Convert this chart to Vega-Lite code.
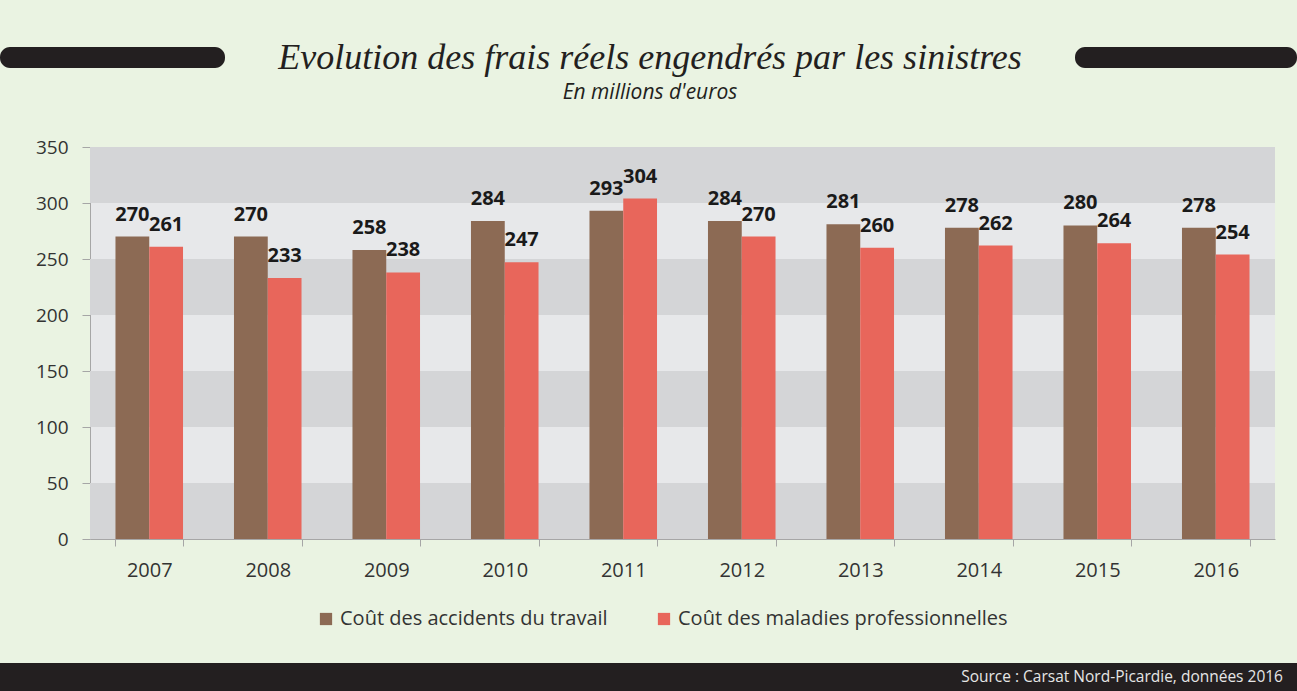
{
  "$schema": "https://vega.github.io/schema/vega-lite/v6.json",
  "background": "#eaf3e2",
  "padding": 0,
  "config": {"view": {"stroke": null}, "font": "Open Sans"},
  "spacing": 83,
  "vconcat": [
    {
      "spacing": 23,
      "vconcat": [
        {
          "bounds": "flush",
          "center": true,
          "spacing": 0,
          "hconcat": [
            {
              "width": 225, "height": 21,
              "view": {"fill": "#231f20", "cornerRadius": 10, "stroke": null},
              "data": {"values": [{}]},
              "mark": {"type": "text"},
              "encoding": {"text": {"value": ""}}
            },
            {
              "width": 850, "height": 115,
              "view": {"fill": "#eaf3e2", "stroke": null},
              "data": {"values": [{"t": "Evolution des frais réels engendrés par les sinistres", "s": "En millions d'euros"}]},
              "layer": [
                {
                  "mark": {"type": "text", "font": "Liberation Serif", "fontStyle": "italic", "fontSize": 36, "color": "#231f20", "baseline": "alphabetic", "dy": 11},
                  "encoding": {"text": {"field": "t"}}
                },
                {
                  "mark": {"type": "text", "font": "Open Sans", "fontStyle": "italic", "fontSize": 21, "color": "#231f20", "baseline": "alphabetic", "dy": 41},
                  "encoding": {"text": {"field": "s"}}
                }
              ]
            },
            {
              "width": 222, "height": 21,
              "view": {"fill": "#231f20", "cornerRadius": 10, "stroke": null},
              "data": {"values": [{}]},
              "mark": {"type": "text"},
              "encoding": {"text": {"value": ""}}
            }
          ]
        },
        {
          "bounds": "flush",
          "spacing": 0,
          "hconcat": [
            {
              "width": 90, "height": 392,
              "view": {"fill": "#eaf3e2", "stroke": null},
              "data": {"values": [{}]},
              "mark": {"type": "text"},
              "encoding": {"text": {"value": ""}}
            },
            {
              "width": 1185, "height": 392,
              "view": {"fill": "#e7e8ea", "stroke": null},
              "layer": [
                {
                  "data": {"values": [
                    {"lo": 0, "hi": 50},
                    {"lo": 100, "hi": 150},
                    {"lo": 200, "hi": 250},
                    {"lo": 300, "hi": 350}
                  ]},
                  "mark": {"type": "rect", "color": "#d4d5d7"},
                  "encoding": {
                    "y": {"field": "lo", "type": "quantitative", "scale": {"domain": [0, 350], "nice": false},
                      "axis": {"title": null, "values": [0, 50, 100, 150, 200, 250, 300, 350], "grid": false, "domainColor": "#a6a6a6", "tickColor": "#a6a6a6", "tickSize": 8, "labelPadding": 14, "labelFontSize": 19, "labelColor": "#333333", "labelFont": "Open Sans"}},
                    "y2": {"field": "hi"}
                  }
                },
                {
                  "data": {"values": [
                    {"year": "2007", "series": "Coût des accidents du travail", "value": 270},
                    {"year": "2007", "series": "Coût des maladies professionnelles", "value": 261},
                    {"year": "2008", "series": "Coût des accidents du travail", "value": 270},
                    {"year": "2008", "series": "Coût des maladies professionnelles", "value": 233},
                    {"year": "2009", "series": "Coût des accidents du travail", "value": 258},
                    {"year": "2009", "series": "Coût des maladies professionnelles", "value": 238},
                    {"year": "2010", "series": "Coût des accidents du travail", "value": 284},
                    {"year": "2010", "series": "Coût des maladies professionnelles", "value": 247},
                    {"year": "2011", "series": "Coût des accidents du travail", "value": 293},
                    {"year": "2011", "series": "Coût des maladies professionnelles", "value": 304},
                    {"year": "2012", "series": "Coût des accidents du travail", "value": 284},
                    {"year": "2012", "series": "Coût des maladies professionnelles", "value": 270},
                    {"year": "2013", "series": "Coût des accidents du travail", "value": 281},
                    {"year": "2013", "series": "Coût des maladies professionnelles", "value": 260},
                    {"year": "2014", "series": "Coût des accidents du travail", "value": 278},
                    {"year": "2014", "series": "Coût des maladies professionnelles", "value": 262},
                    {"year": "2015", "series": "Coût des accidents du travail", "value": 280},
                    {"year": "2015", "series": "Coût des maladies professionnelles", "value": 264},
                    {"year": "2016", "series": "Coût des accidents du travail", "value": 278},
                    {"year": "2016", "series": "Coût des maladies professionnelles", "value": 254}
                  ]},
                  "encoding": {
                    "x": {"field": "year", "type": "nominal", "sort": null,
                      "scale": {"paddingInner": 0.43, "paddingOuter": 0.215},
                      "axis": {"title": null, "labelAngle": 0, "domainColor": "#a6a6a6", "tickColor": "#a6a6a6", "tickSize": 7, "tickBand": "extent", "labelPadding": 14, "labelFontSize": 20, "labelColor": "#333333", "labelFont": "Open Sans"}},
                    "xOffset": {"field": "series", "type": "nominal", "sort": ["Coût des accidents du travail", "Coût des maladies professionnelles"], "scale": {"paddingInner": 0, "paddingOuter": 0}},
                    "y": {"field": "value", "type": "quantitative", "scale": {"domain": [0, 350], "nice": false},
                      "axis": {"title": null, "values": [0, 50, 100, 150, 200, 250, 300, 350], "grid": false, "domainColor": "#a6a6a6", "tickColor": "#a6a6a6", "tickSize": 8, "labelPadding": 14, "labelFontSize": 19, "labelColor": "#333333", "labelFont": "Open Sans"}}
                  },
                  "layer": [
                    {
                      "mark": {"type": "bar"},
                      "encoding": {
                        "color": {"field": "series", "type": "nominal",
                          "scale": {"domain": ["Coût des accidents du travail", "Coût des maladies professionnelles"], "range": ["#8c6a54", "#e8665b"]},
                          "legend": {"title": null, "orient": "none", "legendX": 316, "legendY": 609, "direction": "horizontal", "symbolType": "square", "symbolSize": 150, "symbolStrokeWidth": 0, "labelFontSize": 20, "labelLimit": 0, "labelColor": "#333333", "labelFont": "Open Sans", "labelOffset": 4, "columnPadding": 46}}
                      }
                    },
                    {
                      "mark": {"type": "text", "baseline": "alphabetic", "dy": -16, "fontSize": 20, "fontWeight": "bold", "color": "#1a1a1a", "font": "Open Sans"},
                      "encoding": {"text": {"field": "value", "type": "quantitative"}}
                    }
                  ]
                }
              ]
            }
          ]
        }
      ]
    },
    {
      "width": 1297, "height": 28,
      "view": {"fill": "#231f20", "stroke": null},
      "data": {"values": [{"src": "Source : Carsat Nord-Picardie, données 2016"}]},
      "mark": {"type": "text", "align": "right", "baseline": "middle", "dx": -14, "fontSize": 15.5, "color": "#e6e6e6", "font": "Open Sans"},
      "encoding": {
        "x": {"datum": 1, "type": "quantitative", "scale": {"domain": [0, 1]}, "axis": null},
        "text": {"field": "src"}
      }
    }
  ]
}
